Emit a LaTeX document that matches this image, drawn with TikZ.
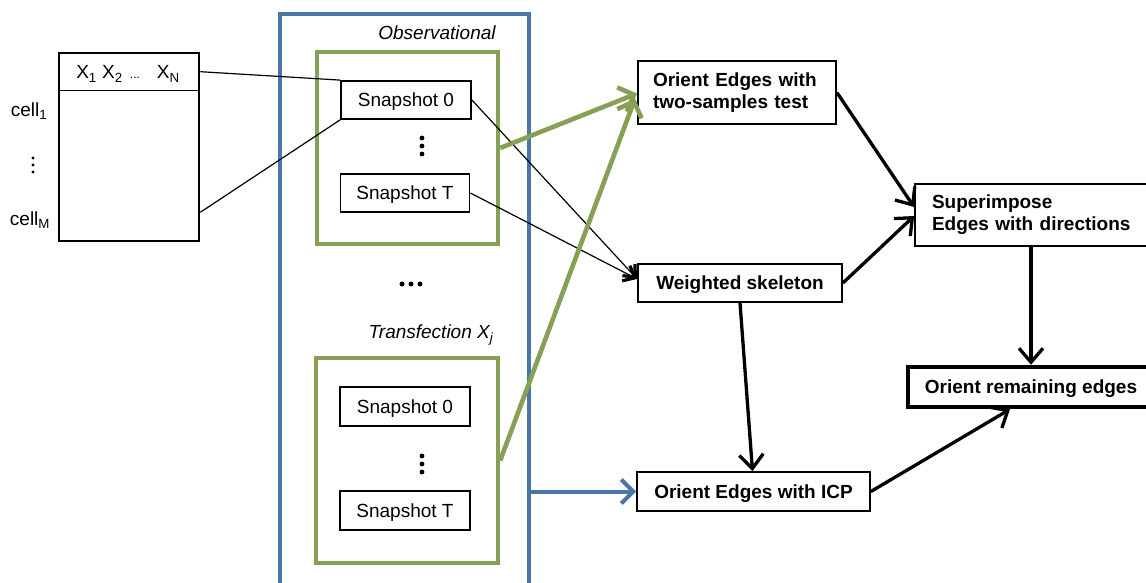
\documentclass[tikz,border=0pt]{standalone}
\usepackage{fontspec}
\setmainfont{Liberation Sans}
\usetikzlibrary{arrows.meta}
\definecolor{frameblue}{RGB}{74,118,168}
\definecolor{framegreen}{RGB}{135,160,85}

\begin{document}
\begin{tikzpicture}[x=1pt,y=-1pt,
  txt/.style={font=\fontsize{19}{22}\selectfont},
  small/.style={font=\fontsize{19}{22}\selectfont},
  box/.style={draw, line width=1.8pt, inner sep=0pt, txt},
  oneline/.style={text height=13.6pt, text depth=0pt},
  stepbox/.style={box, font=\fontsize{19}{22}\selectfont\bfseries},
  greenframe/.style={draw=framegreen, line width=4.4pt, inner sep=0pt},
  blueframe/.style={draw=frameblue, line width=3.8pt, inner sep=0pt},
  thinlink/.style={line width=1.2pt},
  thinarrow/.style={line width=1.2pt, -{Straight Barb[length=10pt,width=17pt,line width=3.2pt]}},
  flow/.style={line width=3.3pt, -{Straight Barb[length=14pt,width=24pt]}},
  greenflow/.style={draw=framegreen, line width=4.6pt, -{Straight Barb[length=13pt,width=26pt]}},
  blueflow/.style={draw=frameblue, line width=4pt, -{Straight Barb[length=12pt,width=24pt]}}
]
\useasboundingbox (0,0) rectangle (1146,583);

% data matrix
\node[draw, line width=2.6pt, minimum width=140pt, minimum height=188pt, inner sep=0pt] (tab) at (129,147) {};
\draw[line width=1.3pt] ([yshift=-39pt]tab.north west) -- ([yshift=-39pt]tab.north east);
\node[small] (hdr) at (128,74) {X\textsubscript{1} X\textsubscript{2} {\fontsize{12}{12}\selectfont\,...}\hspace{17pt}X\textsubscript{N}};
\node[small] (c1) at (29,111) {cell\textsubscript{1}};
\node[small] (cm) at (30,220) {cell\textsubscript{M}};
\foreach \y in {158,165,172} \fill (33,\y) circle (1.7);

% experiment frame
\node[blueframe, minimum width=249pt, minimum height=590pt] (exp) at (404.5,309) {};

\node[txt, font=\fontsize{19}{22}\selectfont\itshape] (obslbl) at (437,33) {Observational};
\node[greenframe, minimum width=181pt, minimum height=192pt] (obs) at (407.5,148) {};
\node[box, oneline, minimum width=130pt, minimum height=38pt] (s0) at (406,100) {Snapshot 0};
\node[box, oneline, minimum width=129pt, minimum height=38pt] (sT) at (405,193) {Snapshot T};
\foreach \y in {138,146,154} \fill (422,\y) circle (2.4);

\foreach \x in {402,411,420} \fill (\x,284) circle (2.5);

\node[txt, font=\fontsize{19}{22}\selectfont\itshape] (trlbl) at (431,335) {Transfection X\textsubscript{\textit{j}}};
\node[greenframe, minimum width=182pt, minimum height=205pt] (trf) at (407,460.5) {};
\node[box, oneline, minimum width=130pt, minimum height=39pt] (t0) at (405,406.5) {Snapshot 0};
\node[box, oneline, minimum width=130pt, minimum height=39pt] (tT) at (405,510.5) {Snapshot T};
\foreach \y in {456,464,472} \fill (422,\y) circle (2.4);

% analysis steps
\node[stepbox, minimum width=198pt, minimum height=63pt, text width=168pt, align=left] (two) at (737,92.5) {Orient Edges with\\two-samples test};
\node[stepbox, oneline, minimum width=204pt, minimum height=38pt] (ws) at (740,283) {Weighted skeleton};
\node[stepbox, minimum width=240pt, minimum height=62pt, text width=206pt, align=left] (sup) at (1035,215) {Superimpose\\Edges with directions};
\node[stepbox, oneline, line width=4.4pt, minimum width=246pt, minimum height=40pt] (rem) at (1031,387) {Orient remaining edges};
\node[stepbox, oneline, minimum width=233pt, minimum height=39pt] (icp) at (753.5,491.5) {Orient Edges with ICP};

% links from the matrix to the first snapshot
\draw[thinlink] ([yshift=-20pt]tab.north east) -- (s0.north west);
\draw[thinlink] ([yshift=30pt]tab.south east) -- (s0.south west);

% observational snapshots to the skeleton
\draw[thinarrow] (s0.east) -- ([yshift=4pt]ws.west);
\draw[thinarrow] (sT.east) -- ([yshift=4pt]ws.west);

% group arrows
\draw[greenflow] (obs.east) -- ([yshift=-1pt]two.west);
\draw[greenflow] (trf.east) -- ([xshift=-2pt,yshift=-6pt]two.west);
\draw[blueflow] (exp.east |- icp.west) -- (icp.west);

% downstream flow
\draw[flow] (two.east) -- ([yshift=8pt]sup.west);
\draw[flow] (ws.east) -- ([yshift=-1pt]sup.west);
\draw[flow] (ws.south) -- ([xshift=-1pt]icp.north);
\draw[flow] (rem.north |- sup.south) -- (rem.north);
\draw[flow] (icp.east) -- ([xshift=-21pt]rem.south);
\end{tikzpicture}
\end{document}
